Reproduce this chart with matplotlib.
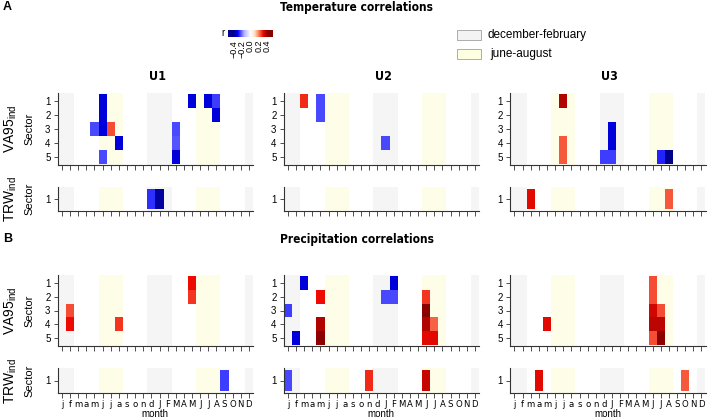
import numpy as np
import matplotlib
matplotlib.use("Agg")
import matplotlib.pyplot as plt
from matplotlib import font_manager
from matplotlib.colors import LinearSegmentedColormap, Normalize
from matplotlib.patches import Rectangle

# data
months = list("jfmamjjasond") + list("JFMAMJJASOND")
sites = ["U1", "U2", "U3"]
sectors = [1, 2, 3, 4, 5]
winter = [0, 1, 11, 12, 13, 23]   # december-february
summer = [5, 6, 7, 17, 18, 19]    # june-august

# (sector, month index, r)
temp_va_u1 = [(1, 5, -0.33), (2, 5, -0.33), (3, 5, -0.33), (3, 4, -0.24), (3, 6, 0.24),
              (4, 7, -0.33), (5, 5, -0.24), (3, 14, -0.24), (4, 14, -0.23), (5, 14, -0.33),
              (1, 16, -0.33), (1, 18, -0.33), (1, 19, -0.25), (2, 19, -0.33)]
temp_va_u2 = [(1, 2, 0.27), (1, 4, -0.24), (2, 4, -0.24), (4, 12, -0.24)]
temp_va_u3 = [(1, 6, 0.36), (4, 6, 0.23), (5, 6, 0.23), (3, 12, -0.33), (4, 12, -0.33),
              (5, 12, -0.25), (5, 11, -0.25), (5, 18, -0.27), (5, 19, -0.4)]
temp_trw_u1 = [(1, 11, -0.26), (1, 12, -0.38)]
temp_trw_u2 = []
temp_trw_u3 = [(1, 2, 0.31), (1, 19, 0.23)]

prec_va_u1 = [(1, 16, 0.3), (2, 16, 0.26), (3, 1, 0.24), (4, 1, 0.3), (4, 7, 0.26)]
prec_va_u2 = [(3, 0, -0.25), (5, 1, -0.33), (1, 2, -0.33), (2, 4, 0.3), (4, 4, 0.36),
              (5, 4, 0.4), (2, 12, -0.24), (1, 13, -0.33), (2, 13, -0.24), (2, 17, 0.26),
              (3, 17, 0.4), (4, 17, 0.36), (5, 17, 0.31), (4, 18, 0.22), (5, 18, 0.31)]
prec_va_u3 = [(4, 4, 0.31), (1, 17, 0.24), (2, 17, 0.24), (3, 17, 0.33), (4, 17, 0.35),
              (5, 17, 0.24), (3, 18, 0.24), (4, 18, 0.35), (5, 18, 0.4)]
prec_trw_u1 = [(1, 20, -0.25)]
prec_trw_u2 = [(1, 0, -0.24), (1, 10, 0.27), (1, 17, 0.34)]
prec_trw_u3 = [(1, 3, 0.31), (1, 21, 0.23)]

temp_va = [temp_va_u1, temp_va_u2, temp_va_u3]
temp_trw = [temp_trw_u1, temp_trw_u2, temp_trw_u3]
prec_va = [prec_va_u1, prec_va_u2, prec_va_u3]
prec_trw = [prec_trw_u1, prec_trw_u2, prec_trw_u3]

# style
plt.rcParams['font.family'] = ['Liberation Sans', 'DejaVu Sans']
plt.rcParams['mathtext.fontset'] = 'custom'
plt.rcParams['mathtext.rm'] = 'Liberation Sans'
plt.rcParams['mathtext.it'] = 'Liberation Sans'

# narrow font for month letters and titles if a condensed face is around
cond = font_manager.FontProperties(family="DejaVu Sans", stretch="condensed")
have_cond = "Condensed" in font_manager.findfont(cond)
if have_cond:
    month_font = dict(fontproperties=font_manager.FontProperties(
        family="DejaVu Sans", stretch="condensed", size=6.8))
    title_font = dict(fontproperties=font_manager.FontProperties(
        family="DejaVu Sans", stretch="condensed", weight="bold", size=8.6))
    site_font = dict(fontproperties=font_manager.FontProperties(
        family="DejaVu Sans", stretch="condensed", weight="bold", size=9))
else:
    month_font = dict(fontsize=6.5)
    title_font = dict(fontsize=8.5, weight="bold")
    site_font = dict(fontsize=9, weight="bold")

vmin, vmax = -0.4, 0.4
stops = [(-0.4, "#00008B"), (-0.3, "#0000FF"), (-0.15, "#B4B4FF"), (0.0, "#FFFFFF"),
         (0.1, "#FBE2C6"), (0.2, "#FA7A55"), (0.3, "#EE0A00"), (0.4, "#8B0000")]
cmap = LinearSegmentedColormap.from_list(
    "r", [((v - vmin) / (vmax - vmin), c) for v, c in stops])
norm = Normalize(vmin, vmax)

W, H = 708, 420
fig = plt.figure(figsize=(W / 100, H / 100), dpi=100)


def box(x0, y0, x1, y1):
    return [x0 / W, 1 - y1 / H, (x1 - x0) / W, (y1 - y0) / H]


def grid_of(cells, nrow):
    g = np.full((nrow, 24), np.nan)
    for s, m, r in cells:
        g[s - 1, m] = r
    return np.ma.masked_invalid(g)


def draw_panel(ax, cells, nrow, show_months):
    for m in winter:
        ax.axvspan(m - 0.5, m + 0.5, color="#F5F5F5", lw=0, zorder=0)
    for m in summer:
        ax.axvspan(m - 0.5, m + 0.5, color="#FEFEE8", lw=0, zorder=0)
    xe = np.arange(25) - 0.5
    ye = np.arange(nrow + 1) + 0.5
    ax.pcolormesh(xe, ye, grid_of(cells, nrow), cmap=cmap, norm=norm, zorder=1)
    ax.set_xlim(-0.55, 23.5)
    if nrow == 1:
        ax.set_ylim(1.58, 0.42)
    else:
        ax.set_ylim(5.55, 0.45)
    ax.set_yticks(sectors[:nrow])
    ax.set_xticks(range(24))
    if show_months:
        ax.set_xticklabels(months, **month_font)
        ax.set_xlabel("month", fontsize=7, labelpad=0)
    else:
        ax.set_xticklabels([])
    ax.tick_params(axis="x", length=3.5, width=0.6, pad=1.5, color="#333333")
    ax.tick_params(axis="y", length=3, width=0.6, pad=2, labelsize=7, color="#333333")
    for sp in ["top", "right"]:
        ax.spines[sp].set_visible(False)
    for sp in ["left", "bottom"]:
        ax.spines[sp].set_color("#333333")
        ax.spines[sp].set_linewidth(0.8)


lefts = [57.5, 283.5, 510.0]
pw = 195.5
blocks = [
    ("A", "Temperature correlations", 8, temp_va, temp_trw, (93, 165), (187, 211), False),
    ("B", "Precipitation correlations", 240, prec_va, prec_trw, (275, 346), (368, 393), True),
]

for letter, title, ty, va_data, trw_data, va_y, trw_y, months_on in blocks:
    fig.text(3 / W, 1 - (ty - 1) / H, letter, fontsize=9, weight="bold", va="center")
    fig.text(357 / W, 1 - ty / H, title, ha="center", va="center", **title_font)
    for i, x0 in enumerate(lefts):
        ax1 = fig.add_axes(box(x0, va_y[0], x0 + pw, va_y[1]))
        draw_panel(ax1, va_data[i], 5, False)
        ax2 = fig.add_axes(box(x0, trw_y[0], x0 + pw, trw_y[1]))
        draw_panel(ax2, trw_data[i], 1, months_on)
    # y labels on the left
    yc = (va_y[0] + va_y[1]) / 2
    fig.text(11 / W, 1 - yc / H, r"VA95$_{\mathrm{ind}}$", rotation=90, fontsize=10,
             ha="center", va="center")
    fig.text(29 / W, 1 - yc / H, "Sector", rotation=90, fontsize=8, ha="center", va="center")
    yc = (trw_y[0] + trw_y[1]) / 2
    fig.text(11 / W, 1 - yc / H, r"TRW$_{\mathrm{ind}}$", rotation=90, fontsize=10,
             ha="center", va="center")
    fig.text(29 / W, 1 - yc / H, "Sector", rotation=90, fontsize=8, ha="center", va="center")

for i, x0 in enumerate(lefts):
    fig.text((x0 + pw / 2 + 2) / W, 1 - 77 / H, sites[i], ha="center", va="center",
             **site_font)

# colour key
cax = fig.add_axes(box(228, 30, 273, 37))
grad = np.linspace(-0.53, 0.53, 200)[np.newaxis, :]
cax.imshow(grad, aspect="auto", cmap=cmap, norm=norm, extent=[-0.53, 0.53, 0, 1])
cax.set_yticks([])
cax.set_xticks([-0.4, -0.2, 0.0, 0.2, 0.4])
cax.set_xticklabels(["\u22120.4", "\u22120.2", "0.0", "0.2", "0.4"], rotation=90, fontsize=6.5)
cax.tick_params(axis="x", length=0, pad=2)
for sp in cax.spines.values():
    sp.set_visible(False)
fig.text(223 / W, 1 - 33.5 / H, "r", fontsize=7, ha="center", va="center")

# season legend
fig.patches.append(Rectangle((457 / W, 1 - 40 / H), 24 / W, 10 / H, transform=fig.transFigure,
                             facecolor="#F3F3F3", edgecolor="#A0A0A0", lw=0.6))
fig.patches.append(Rectangle((457 / W, 1 - 59 / H), 24 / W, 10 / H, transform=fig.transFigure,
                             facecolor="#FEFEE0", edgecolor="#A0A0A0", lw=0.6))
fig.text(488 / W, 1 - 35 / H, "december-february", fontsize=8.5, va="center")
fig.text(490 / W, 1 - 54 / H, "june-august", fontsize=8.5, va="center")

fig.savefig("out.png", dpi=100)
